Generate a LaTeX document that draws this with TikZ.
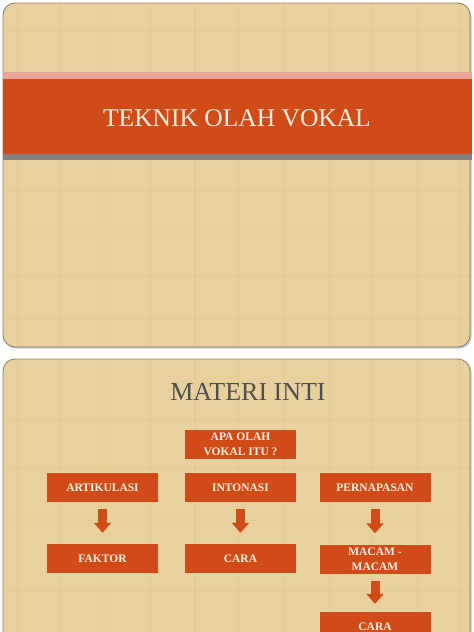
\documentclass[tikz,border=0pt]{standalone}
\usepackage{fontspec}
\setmainfont{Liberation Serif}
\usetikzlibrary{arrows.meta,shadows}
\definecolor{linen}{HTML}{E8D19C}
\definecolor{linenline}{HTML}{C4A76C}
\definecolor{slideedge}{HTML}{8C7C60}
\definecolor{bandred}{HTML}{D14B19}
\definecolor{bandpink}{HTML}{E9A597}
\definecolor{bandgray}{HTML}{86807C}
\definecolor{cream}{HTML}{FAF0DF}
\definecolor{titlegray}{HTML}{505050}
\tikzset{
  slide/.style={fill=linen, rounded corners=12pt,
    drop shadow={shadow xshift=1.5pt,shadow yshift=-1.5pt,opacity=.45}},
  slideline/.style={draw=slideedge, line width=0.8pt, rounded corners=12pt},
  weave/.style={linenline, opacity=.09, line width=2pt},
  topic/.style={fill=bandred, text=cream, minimum width=111pt, minimum height=29pt,
    inner sep=1pt, align=center, font=\bfseries\fontsize{11.5}{14.5}\selectfont},
  fatarrow/.style={draw=bandred, line width=9pt, -{Triangle[width=17pt,length=10pt]}}
}
\begin{document}
\begin{tikzpicture}[x=1pt,y=-1pt]
\useasboundingbox (0,0) rectangle (474,632);
\clip (0,0) rectangle (474,632);
\fill[white] (0,0) rectangle (474,632);
% slide 1
\path[slide] (3,3) rectangle (470,347);
\begin{scope}
\clip[rounded corners=12pt] (3,3) rectangle (470,347);
\foreach \x in {18,60,104,150,195,238,284,330,372,418,460}
  \draw[weave] (\x,3) -- (\x,347);
\foreach \y in {30,190,232,276,318}
  \draw[weave] (3,\y) -- (470,\y);
\end{scope}
\draw[slideline] (3,3) rectangle (470,347);
\fill[bandpink] (3,72) rectangle (472,79);
\fill[bandred] (3,79) rectangle (472,154);
\fill[bandgray] (3,154) rectangle (472,160);
\node[text=cream, font=\fontsize{25.5}{30}\selectfont] (title) at (237,118) {TEKNIK OLAH VOKAL};
% slide 2
\path[slide] (3,359) rectangle (470,660);
\begin{scope}
\clip[rounded corners=12pt] (3,359) rectangle (470,660);
\foreach \x in {18,60,104,150,195,238,284,330,372,418,460}
  \draw[weave] (\x,359) -- (\x,660);
\foreach \y in {420,468,520,590}
  \draw[weave] (3,\y) -- (470,\y);
\end{scope}
\draw[slideline] (3,359) rectangle (470,660);
\node[text=titlegray, font=\fontsize{26}{30}\selectfont] (materi) at (248,392) {MATERI INTI};
\node[topic] (apa) at (240.5,444.5) {APA OLAH\\VOKAL ITU ?};
\node[topic] (art) at (102.5,487.5) {ARTIKULASI};
\node[topic] (int) at (240.5,487.5) {INTONASI};
\node[topic] (per) at (375,487.5) {PERNAPASAN};
\node[topic] (fak) at (102.5,558.5) {FAKTOR};
\node[topic] (cara) at (240.5,558.5) {CARA};
\node[topic] (mac) at (375,559) {MACAM -\\MACAM};
\node[topic] (carb) at (375,626.5) {CARA};
\draw[fatarrow, shorten <=7pt, shorten >=11pt] (art) -- (fak);
\draw[fatarrow, shorten <=7pt, shorten >=11pt] (int) -- (cara);
\draw[fatarrow, shorten <=7pt, shorten >=11pt] (per) -- (mac);
\draw[fatarrow, shorten <=7pt, shorten >=8pt] (mac) -- (carb);
\end{tikzpicture}
\end{document}
